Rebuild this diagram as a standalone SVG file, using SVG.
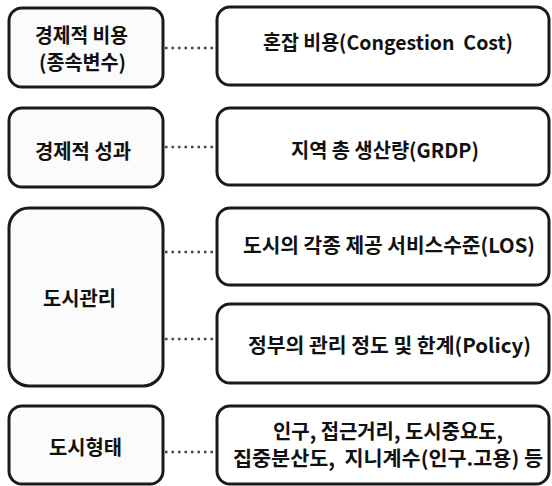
<svg xmlns="http://www.w3.org/2000/svg" width="552" height="486" viewBox="0 0 552 486">
<style>
.box{fill:#fff;stroke:#1a1a1a;stroke-width:3}
.lbox{fill:#fbfbfb;stroke:#1a1a1a;stroke-width:3}
.t{font-family:"Noto Sans CJK KR","Malgun Gothic",sans-serif;font-weight:bold;font-size:20px;fill:#111;text-anchor:middle;white-space:pre}
.c{stroke:#444;stroke-width:2.5;stroke-dasharray:2.5 4;fill:none}
</style>
<rect width="552" height="486" fill="#fff"/>
<g id="connectors">
<line class="c" x1="165" y1="48" x2="215" y2="48"/>
<line class="c" x1="165" y1="147" x2="215" y2="147"/>
<line class="c" x1="165" y1="252" x2="215" y2="252"/>
<line class="c" x1="165" y1="339" x2="215" y2="339"/>
<line class="c" x1="165" y1="452" x2="215" y2="452"/>
</g>
<g id="n-cost">
<rect class="lbox" x="9" y="8" width="154" height="79" rx="13"/>
<text class="t" x="81.5" y="43" textLength="93" lengthAdjust="spacingAndGlyphs">경제적 비용</text>
<text class="t" x="82.5" y="70" textLength="87" lengthAdjust="spacingAndGlyphs">(종속변수)</text>
</g>
<g id="n-perf">
<rect class="lbox" x="9" y="108" width="154" height="79" rx="13"/>
<text class="t" x="83" y="159" textLength="96" lengthAdjust="spacingAndGlyphs">경제적 성과</text>
</g>
<g id="n-mgmt">
<rect class="lbox" x="9" y="208" width="154" height="178" rx="20"/>
<text class="t" x="79.5" y="306" textLength="73" lengthAdjust="spacingAndGlyphs">도시관리</text>
</g>
<g id="n-form">
<rect class="lbox" x="9" y="406" width="154" height="78" rx="13"/>
<text class="t" x="85.5" y="455" textLength="73" lengthAdjust="spacingAndGlyphs">도시형태</text>
</g>
<g id="n-congestion">
<rect class="box" x="217" y="7" width="332" height="78" rx="13"/>
<text class="t" x="388" y="50" textLength="250" lengthAdjust="spacingAndGlyphs" xml:space="preserve">혼잡 비용(Congestion  Cost)</text>
</g>
<g id="n-grdp">
<rect class="box" x="217" y="108" width="332" height="77" rx="13"/>
<text class="t" x="385" y="158" textLength="188" lengthAdjust="spacingAndGlyphs">지역 총 생산량(GRDP)</text>
</g>
<g id="n-los">
<rect class="box" x="217" y="208" width="332" height="77" rx="13"/>
<text class="t" x="389" y="253" textLength="292" lengthAdjust="spacingAndGlyphs">도시의 각종 제공 서비스수준(LOS)</text>
</g>
<g id="n-policy">
<rect class="box" x="217" y="304" width="332" height="79" rx="13"/>
<text class="t" x="389.5" y="353" textLength="283" lengthAdjust="spacingAndGlyphs">정부의 관리 정도 및 한계(Policy)</text>
</g>
<g id="n-vars">
<rect class="box" x="217" y="406" width="332" height="78" rx="13"/>
<text class="t" x="388" y="439" textLength="230" lengthAdjust="spacingAndGlyphs">인구, 접근거리, 도시중요도,</text>
<text class="t" x="388" y="466" textLength="310" lengthAdjust="spacingAndGlyphs" xml:space="preserve">집중분산도,  지니계수(인구.고용) 등</text>
</g>
</svg>
